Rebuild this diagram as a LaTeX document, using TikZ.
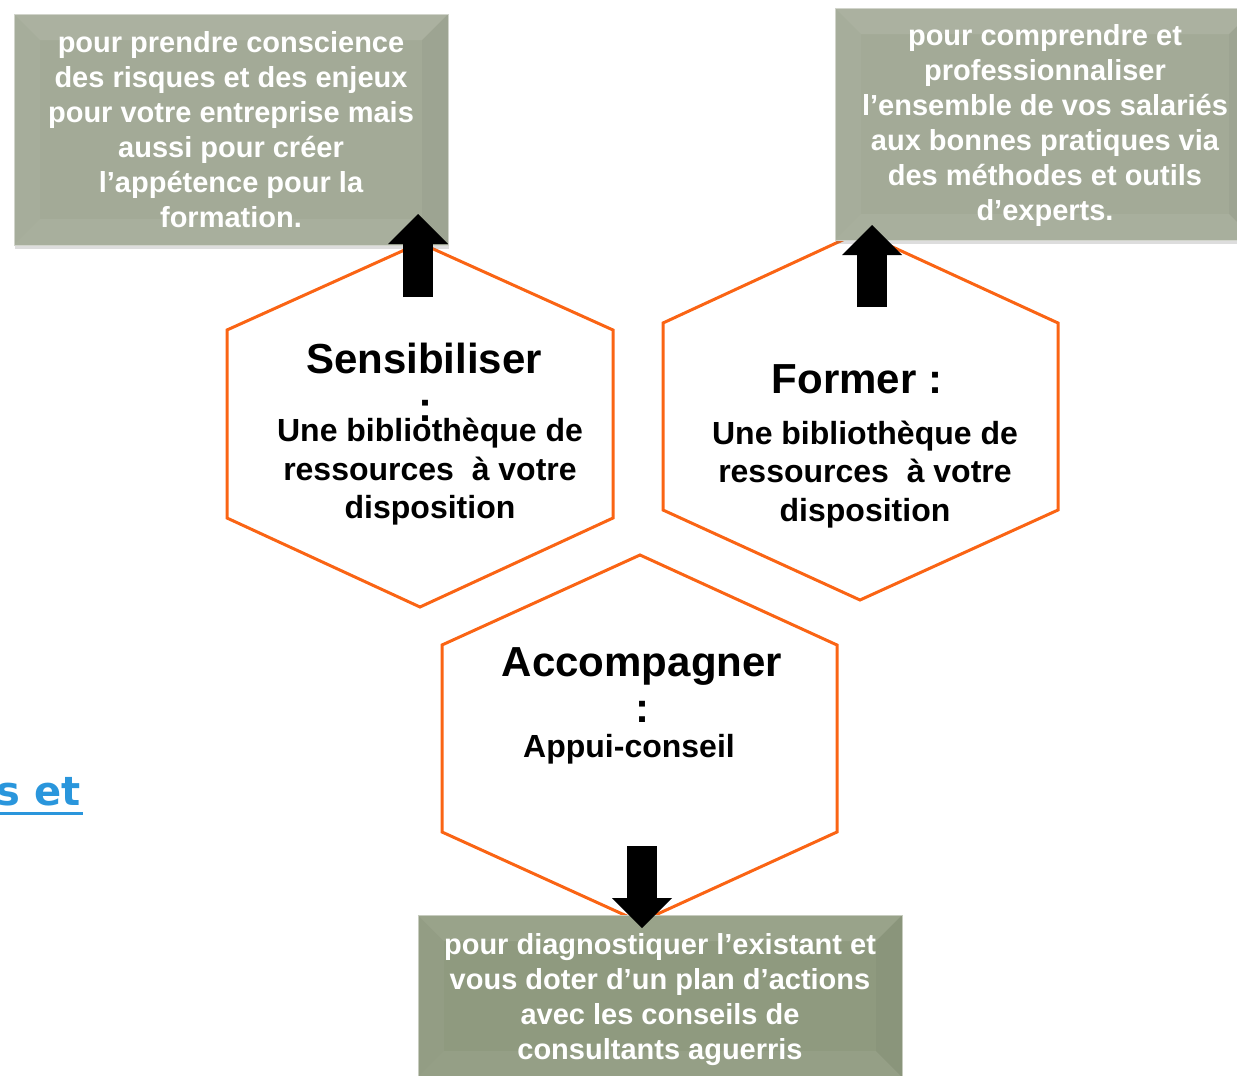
\documentclass[tikz,border=0pt]{standalone}
\usepackage{fontspec}
\setmainfont{Liberation Sans}
\newfontfamily\linkfont{DejaVu Sans}
\usetikzlibrary{arrows.meta,shadows}

\definecolor{hexorange}{RGB}{250,100,20}
\definecolor{panelgrey}{RGB}{163,170,151}
\definecolor{panelgreen}{RGB}{143,154,127}
\definecolor{linkblue}{RGB}{42,150,220}

\tikzset{
  hexline/.style={draw=hexorange, line width=3pt, line join=miter},
  panel/.style={fill=panelgrey, text=white, draw=white!50!panelgrey, line width=1pt,
    font=\fontsize{29}{35}\selectfont\bfseries, align=center, inner sep=0pt,
    drop shadow={shadow xshift=1pt, shadow yshift=-4pt, opacity=.22, fill=black!60},
    path picture={
      % bevel
      \fill[white, opacity=.09] (path picture bounding box.north west) -- (path picture bounding box.north east)
        -- ([xshift=-26pt,yshift=-26pt]path picture bounding box.north east) -- ([xshift=26pt,yshift=-26pt]path picture bounding box.north west) -- cycle;
      \fill[white, opacity=.04] (path picture bounding box.north west) -- (path picture bounding box.south west)
        -- ([xshift=26pt,yshift=26pt]path picture bounding box.south west) -- ([xshift=26pt,yshift=-26pt]path picture bounding box.north west) -- cycle;
      \fill[black, opacity=.03] (path picture bounding box.north east) -- (path picture bounding box.south east)
        -- ([xshift=-26pt,yshift=26pt]path picture bounding box.south east) -- ([xshift=-26pt,yshift=-26pt]path picture bounding box.north east) -- cycle;
      \fill[white, opacity=.06] (path picture bounding box.south west) -- (path picture bounding box.south east)
        -- ([xshift=-26pt,yshift=26pt]path picture bounding box.south east) -- ([xshift=26pt,yshift=26pt]path picture bounding box.south west) -- cycle;
    }},
  hextitle/.style={font=\fontsize{42}{50}\selectfont\bfseries, anchor=base, inner sep=0pt},
  hexbody/.style={font=\fontsize{32}{38.5}\selectfont\bfseries, align=center, inner sep=0pt},
  bigarrow/.style={line width=30pt, -{Triangle[width=60pt,length=28pt,line width=0pt]}}
}

\begin{document}
\begin{tikzpicture}[x=1pt,y=-1pt]

    \useasboundingbox (0,0) rectangle (1237,1076);

    %% Hexagons

    % Sensibiliser
    \draw[hexline] (420,243) -- (613,330) -- (613,518) -- (420,607) -- (227,518) -- (227,330) -- cycle;
    \node[hextitle] (sensTitle) at (424,373) {Sensibiliser};
    \node[hextitle] (sensColon) at (425,421) {:};
    \node[hexbody] (sensText) at (430,472) {Une bibliothèque de\\ressources \ à votre\\disposition};

    % Former
    \draw[hexline] (860,232) -- (1058,323) -- (1058,510) -- (860,600) -- (663,510) -- (663,323) -- cycle;
    \node[hextitle] (formTitle) at (857,393) {Former :};
    \node[hexbody] (formText) at (865,474.5) {Une bibliothèque de\\ressources \ à votre\\disposition};

    % Accompagner
    \draw[hexline] (640,555) -- (837,645) -- (837,832) -- (640,922) -- (442,832) -- (442,645) -- cycle;
    \node[hextitle] (accTitle) at (642,676) {Accompagner};
    \node[hextitle] (accColon) at (642,722) {:};
    \node[hexbody] (accText) at (629,749) {Appui-conseil};

    %% Panels

    \node[panel, minimum width=434pt, minimum height=231pt] (sensBox) at (231,129.5)
      {pour prendre conscience\\des risques et des enjeux\\pour votre entreprise mais\\aussi pour créer\\l’appétence pour la\\formation.};
    \node[panel, minimum width=420pt, minimum height=232pt] (formBox) at (1045,124)
      {\rule{0pt}{25pt}pour comprendre et\\professionnaliser\\l’ensemble de vos salariés\\aux bonnes pratiques via\\des méthodes et outils\\d’experts.};
    \node[panel, fill=panelgreen, draw=white!50!panelgreen, minimum width=484pt, minimum height=162pt] (accBox) at (660,996)
      {\rule{0pt}{29pt}pour diagnostiquer l’existant et\\vous doter d’un plan d’actions\\avec les conseils de\\consultants aguerris};

    %% Arrows

    \coordinate (sensFrom) at (418,297);
    \coordinate (sensTo) at (418,214);
    \draw[bigarrow, -{Triangle[width=60pt,length=30pt,line width=0pt]}] (sensFrom) -- (sensTo);

    \coordinate (formFrom) at (872,307);
    \coordinate (formTo) at (872,225);
    \draw[bigarrow, -{Triangle[width=60pt,length=30pt,line width=0pt]}] (formFrom) -- (formTo);

    \coordinate (accFrom) at (642,846);
    \coordinate (accTo) at (642,928);
    \draw[bigarrow, -{Triangle[width=60pt,length=30pt,line width=0pt]}] (accFrom) -- (accTo);

    % Link
    \node[font=\fontsize{40}{48}\linkfont\bfseries, text=linkblue, anchor=base east, inner sep=0pt] (link) at (81,805) {s et};
    \draw[linkblue, line width=3pt] ([yshift=-8pt]link.base west) -- ([yshift=-8pt,xshift=2pt]link.base east);

\end{tikzpicture}
\end{document}
